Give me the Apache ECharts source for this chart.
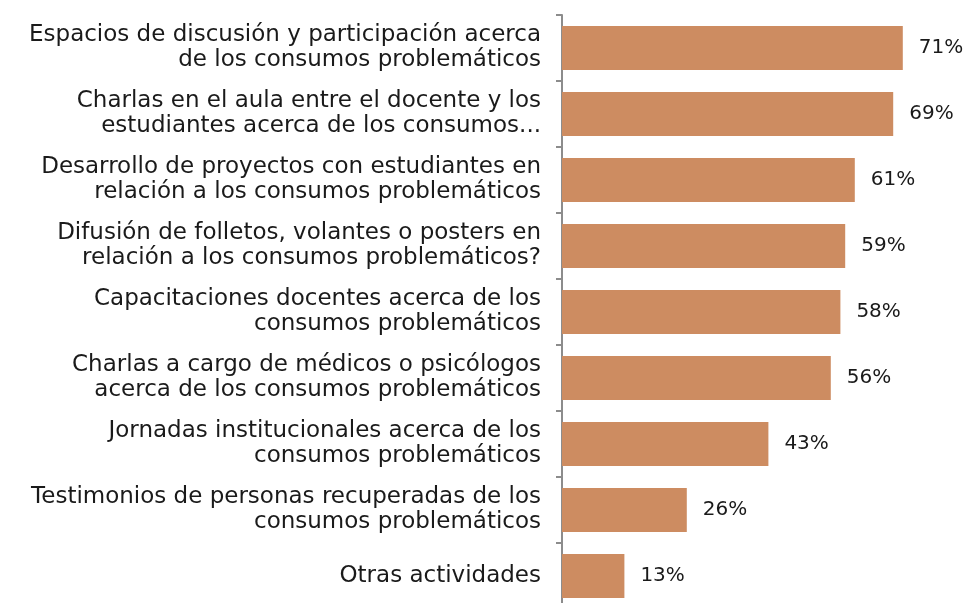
<!DOCTYPE html>
<html>
<head>
<meta charset="utf-8">
<script src="https://cdn.jsdelivr.net/npm/echarts@6/dist/echarts.min.js"></script>
<style>
  html, body { margin: 0; padding: 0; background: #fff; overflow: hidden; }
  #chart { width: 966px; height: 610px; }
</style>
</head>
<body>
<div id="chart"></div>
<script>
var myChart = echarts.init(document.getElementById('chart'));

// categorias y valores (%)
const categorias = [
    "Espacios de discusión y participación acerca\nde los consumos problemáticos",
    "Charlas en el aula entre el docente y los\nestudiantes acerca de los consumos...",
    "Desarrollo de proyectos con estudiantes en\nrelación a los consumos problemáticos",
    "Difusión de folletos, volantes o posters en\nrelación a los consumos problemáticos?",
    "Capacitaciones docentes acerca de los\nconsumos problemáticos",
    "Charlas a cargo de médicos o psicólogos\nacerca de los consumos problemáticos",
    "Jornadas institucionales acerca de los\nconsumos problemáticos",
    "Testimonios de personas recuperadas de los\nconsumos problemáticos",
    "Otras actividades"
];
const valores = [71, 69, 61, 59, 58, 56, 43, 26, 13];

var option = {
    backgroundColor: '#ffffff',
    textStyle: { fontFamily: 'DejaVu Sans' },
    grid: {
        left: 562,
        top: 15,
        width: 384,
        height: 594,
        containLabel: false
    },
    xAxis: {
        type: 'value',
        min: 0,
        max: 80,
        show: false
    },
    yAxis: {
        type: 'category',
        inverse: true,
        data: categorias,
        axisLine: {
            show: true,
            lineStyle: { color: '#8c8c8c', width: 2 }
        },
        axisTick: {
            show: true,
            length: 6,
            lineStyle: { color: '#8c8c8c', width: 2 }
        },
        axisLabel: {
            color: '#1a1a1a',
            fontSize: 23,
            lineHeight: 25,
            align: 'right',
            margin: 21
        }
    },
    series: [
        {
            type: 'bar',
            data: valores,
            barCategoryGap: '33%',
            itemStyle: { color: '#cd8c61' },
            label: {
                show: true,
                position: 'right',
                distance: 16,
                color: '#1a1a1a',
                fontSize: 20,
                formatter: '{c}%'
            },
            animation: false
        }
    ]
};
myChart.setOption(option);

window.addEventListener('resize', function () {
    myChart.resize();
});
</script>
</body>
</html>
